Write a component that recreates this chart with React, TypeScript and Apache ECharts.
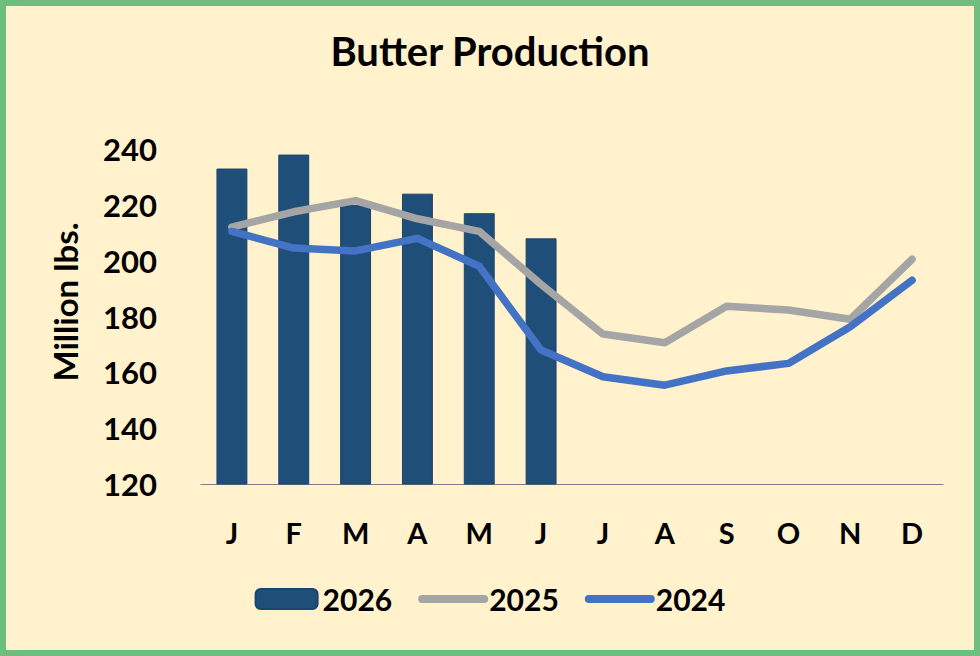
import React, { useEffect, useRef } from "react";
import * as echarts from "echarts";

const months = ["J", "F", "M", "A", "M", "J", "J", "A", "S", "O", "N", "D"];
const prod2026 = [233, 238, 220, 224, 217, 208];
const prod2025 = [212, 217.5, 221.5, 215, 210.5, 191.5, 173.7, 170.6, 183.7, 182.3, 179, 200.5];
const prod2024 = [210.5, 204.5, 203.5, 208, 198, 168, 158.4, 155.4, 160.5, 163.2, 176.3, 193];
const yTicks = [120, 140, 160, 180, 200, 220, 240];

const FONT = "Lato, 'Open Sans', sans-serif";

export default function App() {
  const ref = useRef<HTMLDivElement>(null);
  useEffect(() => {
    if (!ref.current) return;
    const chart = echarts.init(ref.current, undefined, { renderer: "svg" });
    chart.setOption({
      animation: false,
      backgroundColor: "transparent",
      textStyle: { fontFamily: FONT },
      title: {
        text: "Butter Production",
        left: "center",
        top: 26,
        textStyle: { fontFamily: FONT, fontWeight: "bold", fontSize: 40, color: "#000" },
      },
      graphic: [
        {
          type: "text",
          x: 65,
          y: 302,
          rotation: Math.PI / 2,
          style: {
            text: "Million lbs.",
            align: "center",
            verticalAlign: "middle",
            fontFamily: FONT,
            fontWeight: "bold",
            fontSize: 33,
            fill: "#000",
          },
        },
      ],
      legend: {
        bottom: 37,
        left: "center",
        itemWidth: 62,
        itemHeight: 20,
        itemGap: 26,
        textStyle: { fontFamily: FONT, fontWeight: "bold", fontSize: 30, color: "#000" },
        lineStyle: { width: 8, cap: "round" },
        data: [
          { name: "2026" },
          { name: "2025", itemStyle: { opacity: 0 } },
          { name: "2024", itemStyle: { opacity: 0 } },
        ],
      },
      grid: { left: 201, right: 37, top: 149, bottom: 172 },
      xAxis: {
        type: "category",
        data: months,
        axisLine: { lineStyle: { color: "#7F7F7F", width: 1 } },
        axisTick: { show: false },
        axisLabel: { fontFamily: FONT, fontWeight: "bold", fontSize: 29, color: "#000", margin: 34 },
      },
      yAxis: {
        type: "value",
        min: yTicks[0],
        max: yTicks[yTicks.length - 1],
        interval: 20,
        axisLine: { show: false },
        axisTick: { show: false },
        splitLine: { show: false },
        axisLabel: { fontFamily: FONT, fontWeight: "bold", fontSize: 31, color: "#000", margin: 44 },
      },
      series: [
        {
          name: "2026",
          type: "bar",
          data: prod2026,
          barWidth: "50%",
          itemStyle: { color: "#1F4E79", borderColor: "#1A4470", borderWidth: 1 },
        },
        {
          name: "2025",
          type: "line",
          data: prod2025,
          symbol: "none",
          lineStyle: { color: "#A5A5A5", width: 7.5, cap: "round", join: "round" },
          itemStyle: { color: "#A5A5A5" },
        },
        {
          name: "2024",
          type: "line",
          data: prod2024,
          symbol: "none",
          lineStyle: { color: "#4472C4", width: 7.5, cap: "round", join: "round" },
          itemStyle: { color: "#4472C4" },
        },
      ],
    });
    return () => chart.dispose();
  }, []);

  return (
    <div style={{ position: "fixed", left: 0, top: 0, width: 980, height: 656, background: "#FFF2CC" }}>
      <div ref={ref} style={{ position: "absolute", left: 0, top: 0, width: 980, height: 656 }} />
      <div
        style={{
          position: "absolute",
          left: 0,
          top: 0,
          width: 980,
          height: 656,
          boxSizing: "border-box",
          border: "6px solid #6DBE7F",
          pointerEvents: "none",
        }}
      />
    </div>
  );
}
